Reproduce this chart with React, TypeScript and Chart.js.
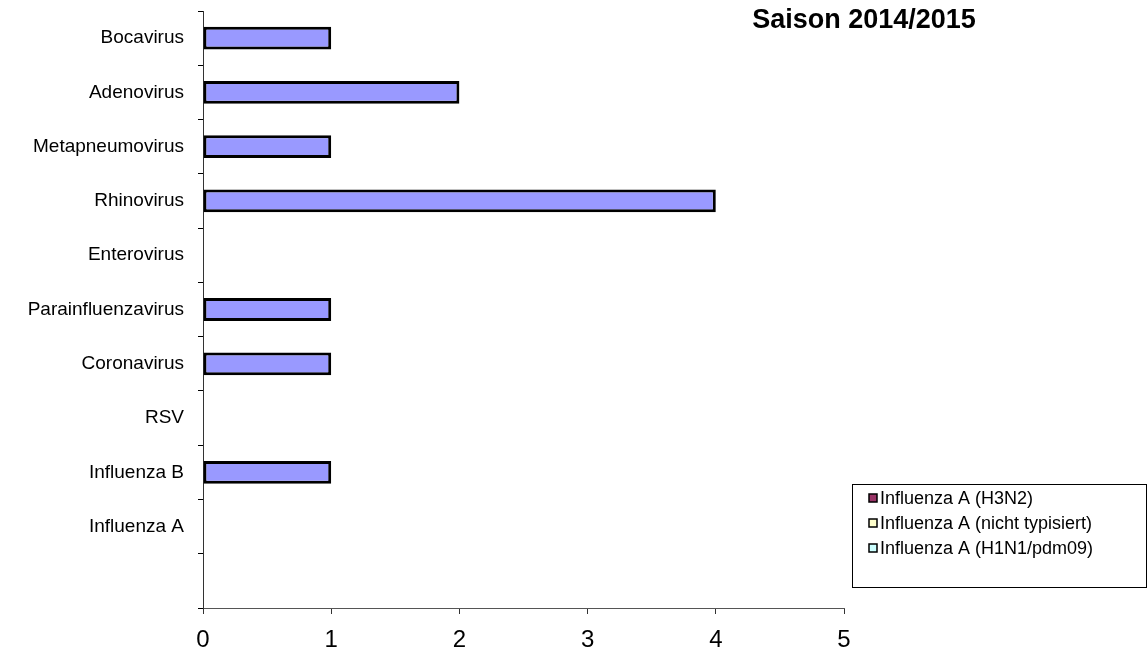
import React, { useEffect, useRef } from "react";
import { Chart, registerables } from "chart.js";

Chart.register(...registerables);

const categories = [
  "Bocavirus",
  "Adenovirus",
  "Metapneumovirus",
  "Rhinovirus",
  "Enterovirus",
  "Parainfluenzavirus",
  "Coronavirus",
  "RSV",
  "Influenza B",
  "Influenza A",
  "",
];
const virusCounts = [1, 2, 1, 4, 0, 1, 1, 0, 1, 0, 0];
const h3n2 = [0, 0, 0, 0, 0, 0, 0, 0, 0, 0, 0];
const nichtTypisiert = [0, 0, 0, 0, 0, 0, 0, 0, 0, 0, 0];
const h1n1 = [0, 0, 0, 0, 0, 0, 0, 0, 0, 0, 0];
const xTicks = [0, 1, 2, 3, 4, 5];
const titleText = "Saison 2014/2015";

const FONT = "'Liberation Sans', Arial, sans-serif";

export default function App() {
  const ref = useRef<HTMLCanvasElement | null>(null);

  useEffect(() => {
    if (!ref.current) return;

    const overlay = {
      id: "overlay",
      afterDraw(chart: any) {
        const ctx = chart.ctx;
        ctx.save();
        // title
        ctx.fillStyle = "#000";
        ctx.font = `bold 27px ${FONT}`;
        ctx.textAlign = "center";
        ctx.textBaseline = "middle";
        ctx.fillText(titleText, 864, 21);
        // legend
        const bx = 852, by = 484, bw = 294, bh = 103;
        ctx.strokeStyle = "#000";
        ctx.lineWidth = 1;
        ctx.strokeRect(bx + 0.5, by + 0.5, bw, bh);
        const items = chart.data.datasets.slice(1);
        ctx.font = `18px ${FONT}`;
        ctx.textAlign = "left";
        items.forEach((ds: any, i: number) => {
          const cy = 498 + i * 25;
          ctx.fillStyle = ds.backgroundColor;
          ctx.fillRect(869, cy - 4, 8, 8);
          ctx.strokeStyle = "#000";
          ctx.lineWidth = 1.5;
          ctx.strokeRect(869, cy - 4, 8, 8);
          ctx.fillStyle = "#000";
          ctx.fillText(ds.label, 880, cy + 1);
        });
        ctx.restore();
      },
    };

    const chart = new Chart(ref.current, {
      type: "bar",
      data: {
        labels: categories,
        datasets: [
          {
            label: "Anzahl",
            data: virusCounts,
            backgroundColor: "#9999FF",
            borderColor: "#000",
            borderWidth: 3,
            borderSkipped: false,
          },
          {
            label: "Influenza A (H3N2)",
            data: h3n2,
            backgroundColor: "#993366",
            borderColor: "#000",
            borderWidth: 2,
          },
          {
            label: "Influenza A (nicht typisiert)",
            data: nichtTypisiert,
            backgroundColor: "#FFFFCC",
            borderColor: "#000",
            borderWidth: 2,
          },
          {
            label: "Influenza A (H1N1/pdm09)",
            data: h1n1,
            backgroundColor: "#CCFFFF",
            borderColor: "#000",
            borderWidth: 2,
          },
        ],
      },
      options: {
        indexAxis: "y",
        responsive: false,
        animation: false,
        devicePixelRatio: 1,
        datasets: {
          bar: { categoryPercentage: 1, barPercentage: 0.42 },
        },
        layout: { padding: { left: 0, top: 0, right: 304, bottom: 0 } },
        plugins: {
          legend: { display: false },
          title: { display: false },
          tooltip: { enabled: false },
        },
        scales: {
          x: {
            stacked: true,
            min: 0,
            max: 5,
            afterBuildTicks(axis: any) {
              axis.ticks = xTicks.map((v) => ({ value: v }));
            },
            afterFit(axis: any) {
              axis.height = 49;
            },
            border: { display: true, color: "#555", width: 1 },
            grid: {
              display: true,
              drawOnChartArea: false,
              drawTicks: true,
              tickLength: 6,
              tickColor: "#333",
            },
            ticks: {
              color: "#000",
              padding: 12,
              font: { family: FONT, size: 24 },
            },
          },
          y: {
            stacked: true,
            afterFit(axis: any) {
              axis.width = 203;
              axis.paddingTop = 11;
              axis.paddingBottom = 0;
            },
            border: { display: true, color: "#333", width: 1 },
            grid: {
              display: true,
              offset: true,
              drawOnChartArea: false,
              drawTicks: true,
              tickLength: 5,
              tickColor: "#000",
            },
            ticks: {
              color: "#000",
              padding: 14,
              autoSkip: false,
              font: { family: FONT, size: 19 },
            },
          },
        },
      },
      plugins: [overlay],
    } as any);

    return () => chart.destroy();
  }, []);

  return (
    <div style={{ position: "absolute", left: 0, top: 0, width: 1148, height: 657, background: "#fff" }}>
      <canvas ref={ref} width={1148} height={657} style={{ width: 1148, height: 657 }} />
    </div>
  );
}
